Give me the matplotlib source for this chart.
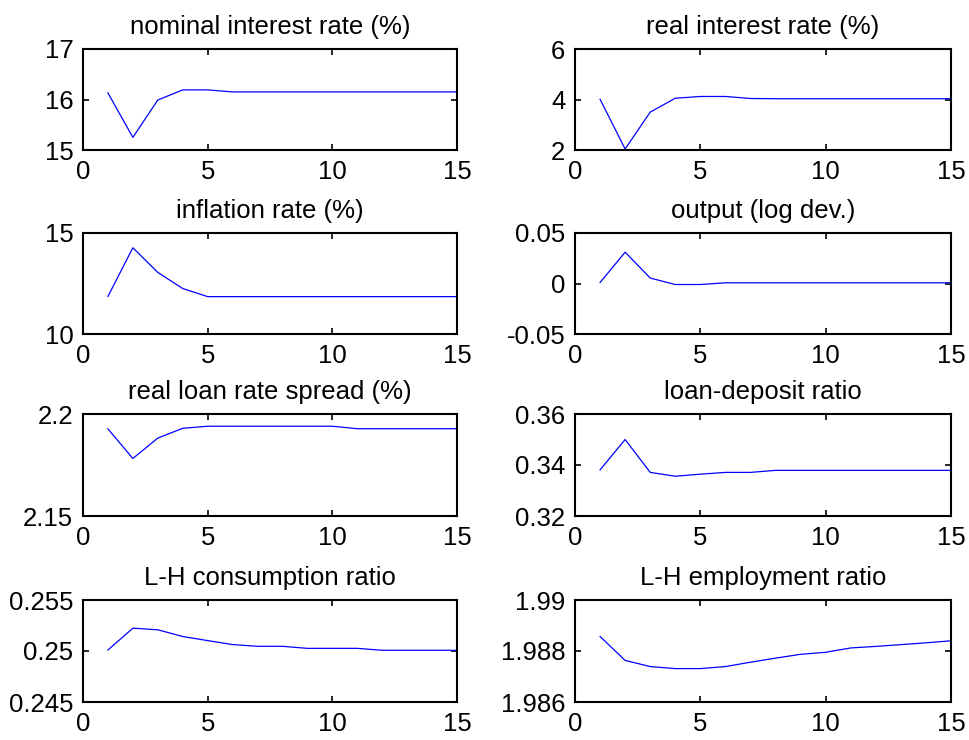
import matplotlib
matplotlib.use("Agg")
import matplotlib.pyplot as plt

plt.rcParams['font.family'] = ['Liberation Sans', 'DejaVu Sans']

periods = list(range(1, 16))

titles = ["nominal interest rate (%)", "real interest rate (%)",
          "inflation rate (%)", "output (log dev.)",
          "real loan rate spread (%)", "loan-deposit ratio",
          "L-H consumption ratio", "L-H employment ratio"]

nominal_rate = [16.13, 15.25, 15.99, 16.19, 16.19, 16.15, 16.15, 16.15, 16.15, 16.15,
                16.15, 16.15, 16.15, 16.15, 16.15]
real_rate = [4.01, 2.04, 3.50, 4.05, 4.12, 4.12, 4.04, 4.03, 4.03, 4.03,
             4.03, 4.03, 4.03, 4.03, 4.03]
inflation = [11.86, 14.27, 13.05, 12.25, 11.85, 11.85, 11.85, 11.85, 11.85, 11.85,
             11.85, 11.85, 11.85, 11.85, 11.85]
output = [0.001, 0.031, 0.0054, -0.001, -0.001, 0.0007, 0.0007, 0.0007, 0.0007, 0.0007,
          0.0007, 0.0007, 0.0007, 0.0007, 0.0007]
loan_spread = [2.1927, 2.1782, 2.1882, 2.1930, 2.1940, 2.1940, 2.1940, 2.1940, 2.1940, 2.1940,
               2.1928, 2.1928, 2.1928, 2.1928, 2.1928]
loan_deposit = [0.3381, 0.3500, 0.3371, 0.3356, 0.3364, 0.3371, 0.3371, 0.3379, 0.3379, 0.3379,
                0.3379, 0.3379, 0.3379, 0.3379, 0.3379]
cons_ratio = [0.2501, 0.25224, 0.25208, 0.25142, 0.25102, 0.25063, 0.25046, 0.25046, 0.25026,
              0.25026, 0.25026, 0.25007, 0.25007, 0.25007, 0.25007]
empl_ratio = [1.98857, 1.98763, 1.98739, 1.98731, 1.98731, 1.98739, 1.98756, 1.98772, 1.98787,
              1.98795, 1.98812, 1.98818, 1.98825, 1.98832, 1.98840]

series = [nominal_rate, real_rate, inflation, output,
          loan_spread, loan_deposit, cons_ratio, empl_ratio]

ylims = [(15, 17), (2, 6), (10, 15), (-0.05, 0.05),
         (2.15, 2.2), (0.32, 0.36), (0.245, 0.255), (1.986, 1.99)]
yticks = [[15, 16, 17], [2, 4, 6], [10, 15], [-0.05, 0, 0.05],
          [2.15, 2.2], [0.32, 0.34, 0.36], [0.245, 0.25, 0.255], [1.986, 1.988, 1.99]]
ytick_labels = [["15", "16", "17"], ["2", "4", "6"], ["10", "15"], ["-0.05", "0", "0.05"],
                ["2.15", "2.2"], ["0.32", "0.34", "0.36"], ["0.245", "0.25", "0.255"],
                ["1.986", "1.988", "1.99"]]
xticks = [0, 5, 10, 15]
xtick_labels = ["0", "5", "10", "15"]

W, H = 970, 740
fig = plt.figure(figsize=(W / 100, H / 100), dpi=100)

col_x = [(83, 457), (575, 951)]
row_y = [(49, 150), (233, 334), (414, 516), (600, 702)]

FS = 18.5
for i in range(8):
    r, c = divmod(i, 2)
    x0, x1 = col_x[c]
    y0, y1 = row_y[r]
    ax = fig.add_axes([x0 / W, 1 - y1 / H, (x1 - x0) / W, (y1 - y0) / H])
    ax.plot(periods, series[i], color='#0000ff', linewidth=0.9)
    ax.set_xlim(0, 15)
    ax.set_ylim(*ylims[i])
    ax.set_xticks(xticks)
    ax.set_xticklabels(xtick_labels)
    ax.set_yticks(yticks[i])
    ax.set_yticklabels(ytick_labels[i])
    ax.tick_params(direction='in', top=True, right=True, length=4, width=1.2,
                   labelsize=FS, pad=7, colors='black')
    for sp in ax.spines.values():
        sp.set_linewidth(1.5)
        sp.set_color('black')
    ax.set_title(titles[i], fontsize=FS, pad=11)

fig.savefig("out.png", dpi=100, facecolor='white')
